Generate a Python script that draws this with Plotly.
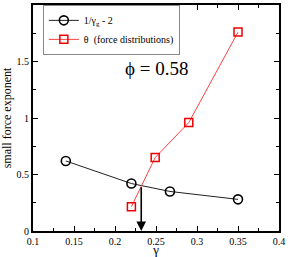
import plotly.graph_objects as go

gamma_circ = [0.14, 0.22, 0.267, 0.35]
inv_gamma_g = [0.62, 0.42, 0.35, 0.28]

gamma_sq = [0.22, 0.249, 0.29, 0.35]
theta = [0.215, 0.65, 0.96, 1.76]

arrow_x = 0.232
arrow_top = 0.40
phi_label = "ϕ = 0.58"

FONT = "Liberation Serif, Times New Roman, DejaVu Serif, serif"

fig = go.Figure()
fig.add_trace(go.Scatter(
    x=gamma_circ, y=inv_gamma_g, mode="lines+markers",
    name="1/γ<sub>g</sub> - 2",
    line=dict(color="#222222", width=1),
    marker=dict(symbol="circle-open", size=9, color="black", line=dict(width=1.6)),
))
fig.add_trace(go.Scatter(
    x=gamma_sq, y=theta, mode="lines+markers",
    name="θ  (force distributions)",
    line=dict(color="#ff4040", width=1),
    marker=dict(symbol="square-open", size=8, color="#ee0000", line=dict(width=1.5)),
))

fig.add_annotation(
    x=arrow_x, y=0, ax=arrow_x, ay=arrow_top, xref="x", yref="y", axref="x", ayref="y",
    showarrow=True, arrowhead=2, arrowsize=1.2, arrowwidth=1.6, arrowcolor="black", text="",
)
fig.add_annotation(
    x=0.251, y=1.44, xref="x", yref="y", text=phi_label, showarrow=False,
    font=dict(family=FONT, size=19, color="black"),
)

axis_common = dict(
    showgrid=False, zeroline=False, showline=True, linecolor="black", linewidth=2,
    mirror="ticks", ticks="inside", ticklen=5, tickcolor="black", tickwidth=1,
    tickfont=dict(family=FONT, size=10, color="black"), automargin=False,
)
fig.update_xaxes(
    range=[0.1, 0.4], tickvals=[0.1, 0.15, 0.2, 0.25, 0.3, 0.35, 0.4],
    ticktext=["0.1", "0.15", "0.2", "0.25", "0.3", "0.35", "0.4"],
    minor=dict(ticks="inside", ticklen=3, tickcolor="black", dtick=0.025, tick0=0.1),
    title=dict(text="γ", font=dict(family=FONT, size=13, color="black"), standoff=0),
    **axis_common,
)
fig.update_yaxes(
    range=[0, 2], tickvals=[0, 0.5, 1, 1.5, 2], ticktext=["0", "0.5", "1", "1.5", "2"],
    minor=dict(ticks="inside", ticklen=3, tickcolor="black", dtick=0.25, tick0=0),
    title=dict(text="small force exponent", font=dict(family=FONT, size=12, color="black"), standoff=2),
    **axis_common,
)
fig.update_layout(
    width=288, height=257,
    margin=dict(l=33, r=9, t=5, b=26),
    paper_bgcolor="white", plot_bgcolor="white",
    showlegend=True,
    legend=dict(
        x=0.04, y=0.89, xanchor="left", yanchor="middle",
        bordercolor="#888888", borderwidth=1, bgcolor="white",
        font=dict(family=FONT, size=10, color="black"),
        tracegroupgap=0, itemwidth=30,
    ),
)
fig.write_html(
    "out.html",
    config={"displayModeBar": False},
    post_script="document.body.style.margin='0';document.body.style.overflow='hidden';",
)
